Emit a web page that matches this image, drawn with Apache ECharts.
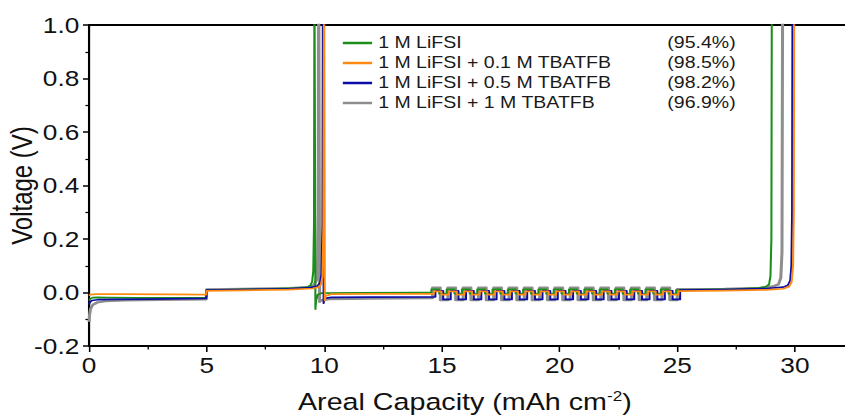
<!DOCTYPE html>
<html>
<head>
<meta charset="utf-8">
<script src="https://cdn.jsdelivr.net/npm/echarts@6/dist/echarts.min.js"></script>
<style>
html,body{margin:0;padding:0;background:#fff;}
#wrap{width:845px;height:418px;overflow:hidden;position:relative;background:#fff;}
#chart{width:760px;height:418px;transform:scaleX(1.22);transform-origin:0 0;}
</style>
</head>
<body>
<div id="wrap"><div id="chart"></div></div>
<script>
// ---- data ----
const seriesNames = ['1 M LiFSI', '1 M LiFSI + 0.1 M TBATFB', '1 M LiFSI + 0.5 M TBATFB', '1 M LiFSI + 1 M TBATFB'];
const efficiencies = ['(95.4%)', '(98.5%)', '(98.2%)', '(96.9%)'];
const xTicks = [0, 5, 10, 15, 20, 25, 30];
const yTicks = [-0.2, 0.0, 0.2, 0.4, 0.6, 0.8, 1.0];

// 1 M LiFSI
const lifsiMain = [[0,-0.03],[0.05,-0.024],[0.15,-0.019],[0.35,-0.018],[0.8,-0.019],[2,-0.02],[4.98,-0.019],[5.0,0.009],[6.0,0.011],[7.5,0.013],[8.7,0.016],[9.2,0.019],[9.4,0.025],[9.48,0.04],[9.53,0.08],[9.56,0.25],[9.58,1.2],[9.61,1.2],[9.62,-0.062],[9.65,-0.03],[9.72,-0.008],[9.9,-0.002],[11.5,-0.001],[14.0,0.0],[14.55,0.0]];
const lifsiCycleX = [14.55,14.88,15.20,15.53,15.85,16.18,16.50,16.83,17.15,17.48,17.80,18.13,18.45,18.78,19.10,19.43,19.75,20.08,20.40,20.73,21.05,21.38,21.70,22.03,22.35,22.68,23.00,23.33,23.65,23.98,24.30,24.63];
const lifsiCycleV = [0.012, -0.004];
const lifsiTail = [[24.95,0.009],[26,0.011],[27.5,0.013],[28.4,0.016],[28.75,0.021],[28.9,0.03],[28.96,0.06],[29.0,0.2],[29.02,1.2]];

// + 0.1 M TBATFB
const tb01Main = [[0,-0.012],[0.05,-0.008],[0.3,-0.006],[1.5,-0.006],[3.5,-0.007],[4.98,-0.008],[5.0,0.006],[6.5,0.008],[8.5,0.011],[9.5,0.015],[9.75,0.02],[9.86,0.03],[9.92,0.06],[9.96,0.25],[9.99,1.2],[10.01,1.2],[10.02,-0.03],[10.06,-0.012],[10.3,-0.006],[12,-0.005],[14.65,-0.005]];
const tb01CycleX = [14.65,14.98,15.30,15.63,15.95,16.28,16.60,16.93,17.25,17.58,17.90,18.23,18.55,18.88,19.20,19.53,19.85,20.18,20.50,20.83,21.15,21.48,21.80,22.13,22.45,22.78,23.10,23.43,23.75,24.08,24.40,24.73];
const tb01CycleV = [0.004, -0.008];
const tb01Tail = [[25.05,0.005],[27,0.007],[28.8,0.01],[29.5,0.014],[29.75,0.022],[29.86,0.04],[29.92,0.1],[29.95,0.3],[29.97,1.2]];

// + 0.5 M TBATFB
const tb05Main = [[0,-0.045],[0.04,-0.036],[0.12,-0.03],[0.35,-0.027],[1,-0.026],[2.5,-0.025],[4.98,-0.022],[5.0,0.009],[6.5,0.011],[8.5,0.014],[9.4,0.018],[9.7,0.024],[9.82,0.035],[9.88,0.07],[9.92,0.25],[9.94,1.2],[9.96,1.2],[9.97,-0.04],[10.01,-0.022],[10.3,-0.018],[12,-0.017],[14.72,-0.016]];
const tb05CycleX = [14.72,15.05,15.37,15.70,16.02,16.35,16.67,17.00,17.32,17.65,17.97,18.30,18.62,18.95,19.27,19.60,19.92,20.25,20.57,20.90,21.22,21.55,21.87,22.20,22.52,22.85,23.17,23.50,23.82,24.15,24.47,24.80];
const tb05CycleV = [0.006, -0.026];
const tb05Tail = [[25.12,0.009],[27,0.011],[28.8,0.015],[29.5,0.02],[29.7,0.027],[29.8,0.045],[29.85,0.1],[29.88,0.3],[29.9,1.2]];

// + 1 M TBATFB
const tb1Main = [[0,-0.11],[0.02,-0.085],[0.06,-0.062],[0.15,-0.047],[0.35,-0.037],[0.7,-0.032],[1.5,-0.029],[3,-0.027],[4.98,-0.025],[5.0,0.011],[6.5,0.013],[8.5,0.016],[9.3,0.02],[9.55,0.027],[9.66,0.045],[9.71,0.1],[9.74,0.3],[9.76,1.2],[9.79,1.2],[9.8,-0.035],[9.85,-0.03],[10.2,-0.024],[12,-0.022],[14.6,-0.021]];
const tb1CycleX = [14.60,14.93,15.25,15.58,15.90,16.23,16.55,16.88,17.20,17.53,17.85,18.18,18.50,18.83,19.15,19.48,19.80,20.13,20.45,20.78,21.10,21.43,21.75,22.08,22.40,22.73,23.05,23.38,23.70,24.03,24.35,24.68];
const tb1CycleV = [0.018, -0.028];
const tb1Tail = [[25.0,0.012],[27,0.013],[28.5,0.017],[29.05,0.022],[29.3,0.03],[29.4,0.055],[29.45,0.15],[29.48,1.2]];

// ---- build ----
function build(main, cx, cv, tail) {
  const pts = main.slice();
  let prev = main[main.length - 1][1];
  cx.forEach(function (x, i) {
    const lv = cv[i % 2];
    pts.push([x, prev], [x, lv]);
    prev = lv;
  });
  pts.push([tail[0][0], prev]);
  tail.forEach(function (p) { pts.push(p); });
  return pts;
}

const colors = ['#1a8f1a', '#ff8a12', '#0c0ca6', '#8e8e8e'];
const dataSets = [
  build(lifsiMain, lifsiCycleX, lifsiCycleV, lifsiTail),
  build(tb01Main, tb01CycleX, tb01CycleV, tb01Tail),
  build(tb05Main, tb05CycleX, tb05CycleV, tb05Tail),
  build(tb1Main, tb1CycleX, tb1CycleV, tb1Tail)
];
const widths = [1.7, 1.7, 1.7, 2.5];
const drawOrder = [3, 0, 2, 1];
const effMap = {};
seriesNames.forEach(function (n, i) { effMap[n] = efficiencies[i]; });

const FONT = '"Liberation Sans", Arial, sans-serif';
const chart = echarts.init(document.getElementById('chart'), null, {renderer: 'svg'});
const axisCommon = {
  axisLine: {show: true, onZero: false, lineStyle: {color: '#000', width: 1.8}},
  splitLine: {show: false}
};
chart.setOption({
  animation: false,
  backgroundColor: '#fff',
  textStyle: {fontFamily: FONT},
  grid: {left: 73, top: 25, right: 12, bottom: 72, containLabel: false, outerBoundsMode: 'none'},
  legend: {
    orient: 'vertical', left: 276, top: 30,
    itemWidth: 24, itemHeight: 2.5, itemGap: 4, icon: 'rect',
    data: seriesNames,
    formatter: function (n) { return '{n|' + n + '}{p|' + effMap[n] + '}'; },
    textStyle: {
      fontFamily: FONT, fontSize: 16, color: '#1a1a1a', lineHeight: 16,
      rich: {
        n: {width: 234, fontSize: 16, fontFamily: FONT, color: '#1a1a1a'},
        p: {width: 59, align: 'right', fontSize: 16, fontFamily: FONT, color: '#1a1a1a'}
      }
    }
  },
  xAxis: [
    Object.assign({
      type: 'value', position: 'bottom', min: 0, max: 35, interval: 5,
      axisTick: {show: true, inside: false, length: 6, lineStyle: {color: '#000', width: 1.3}},
      minorTick: {show: true, splitNumber: 2, length: 3.5, lineStyle: {color: '#000', width: 1.1}},
      axisLabel: {
        fontSize: 21.5, color: '#111', margin: 8, fontFamily: FONT,
        formatter: function (v) { return xTicks.indexOf(v) >= 0 ? String(v) : ''; }
      },
      name: 'Areal Capacity (mAh cm{sup|-2})', nameLocation: 'middle', nameGap: 43,
      nameTextStyle: {
        fontSize: 23.5, color: '#111', fontFamily: FONT, padding: [0, 59, 0, 0],
        rich: {sup: {fontSize: 14, fontFamily: FONT, color: '#111', verticalAlign: 'top', padding: [0, 0, 11, 0]}}
      }
    }, axisCommon),
    Object.assign({
      type: 'value', position: 'top', min: 0, max: 35,
      axisTick: {show: false}, axisLabel: {show: false}
    }, axisCommon)
  ],
  yAxis: Object.assign({
    type: 'value', min: -0.2, max: 1.0, interval: 0.2,
    axisTick: {show: true, inside: false, length: 5, lineStyle: {color: '#000', width: 1.5}},
    minorTick: {show: true, splitNumber: 2, length: 3, lineStyle: {color: '#000', width: 1.2}},
    axisLabel: {
      fontSize: 21.5, color: '#111', margin: 8, fontFamily: FONT,
      formatter: function (v) {
        const r = Math.round(v * 10) / 10;
        for (let i = 0; i < yTicks.length; i++) { if (Math.abs(yTicks[i] - r) < 1e-6) return yTicks[i].toFixed(1); }
        return '';
      }
    },
    name: 'Voltage (V)', nameLocation: 'middle', nameGap: 43, nameRotate: 90, nameMoveOverlap: false,
    nameTextStyle: {fontSize: 24, color: '#111', fontFamily: FONT}
  }, axisCommon),
  series: drawOrder.map(function (i) {
    return {
      name: seriesNames[i], type: 'line', data: dataSets[i],
      showSymbol: false, symbol: 'none', clip: true,
      color: colors[i],
      lineStyle: {color: colors[i], width: widths[i], join: 'round'},
      emphasis: {disabled: true}
    };
  })
});
</script>
</body>
</html>
